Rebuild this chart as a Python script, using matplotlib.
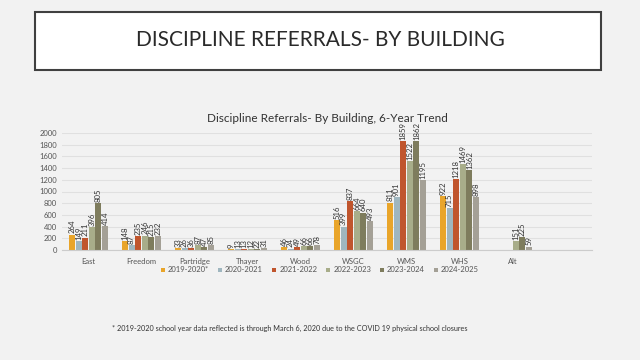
import matplotlib
matplotlib.use("Agg")
import matplotlib.pyplot as plt
from matplotlib.patches import Rectangle
import numpy as np

buildings = ["East", "Freedom", "Partridge", "Thayer", "Wood", "WSGC", "WMS", "WHS", "Alt"]
years = ["2019-2020*", "2020-2021", "2021-2022", "2022-2023", "2023-2024", "2024-2025"]
y2019 = [264, 148, 33, 9, 46, 516, 811, 922, np.nan]
y2020 = [149, 87, 26, 13, 24, 399, 901, 715, np.nan]
y2021 = [211, 235, 36, 13, 49, 837, 1859, 1218, np.nan]
y2022 = [396, 246, 87, 12, 66, 664, 1522, 1469, 151]
y2023 = [805, 215, 47, 22, 66, 640, 1862, 1362, 225]
y2024 = [414, 232, 85, 31, 78, 493, 1195, 898, 59]
series = [y2019, y2020, y2021, y2022, y2023, y2024]
colors = ["#E9A52A", "#9FB6BF", "#C0552D", "#A8AD8A", "#7E7C5D", "#A4A096"]

plt.rcParams['font.family'] = ['Lato', 'DejaVu Sans']
fig = plt.figure(figsize=(6.4, 3.6), dpi=100)
fig.patch.set_facecolor("#F2F2F2")

# title box
fig.patches.append(Rectangle((35/640, 1-69.5/360), 566/640, 58/360, transform=fig.transFigure,
                             facecolor="white", edgecolor="#404040", lw=1.5, zorder=0))
fig.text(320/640, 1-40/360, "DISCIPLINE REFERRALS- BY BUILDING", ha="center", va="center",
         fontsize=15, color="#2a2a2a")

ax = fig.add_axes([62/640, 1-250/360, 530/640, 117/360])
ax.set_facecolor("#F2F2F2")
x = np.arange(len(buildings))
bw = 0.125
for i, (vals, c, lab) in enumerate(zip(series, colors, years)):
    off = (i - 2.5) * bw
    v = np.array(vals, dtype=float)
    ax.bar(x + off, v, width=bw*0.92, color=c, label=lab, zorder=2)
    for xi, vi in zip(x + off, v):
        if not np.isnan(vi):
            ax.text(xi, vi + 20, f"{int(vi)}", rotation=90, ha="center", va="bottom",
                    fontsize=5.6, color="#333333")

ax.set_xlim(-0.5, 9.5)
ax.set_ylim(0, 2000)
ax.set_yticks(np.arange(0, 2001, 200))
ax.set_xticks(x)
ax.set_xticklabels(buildings)
ax.tick_params(axis="both", length=0, labelsize=5.5, colors="#555555")
ax.tick_params(axis="x", pad=6)
ax.grid(axis="y", color="#E0E0E0", lw=0.8, zorder=0)
for s in ["top", "right", "left"]:
    ax.spines[s].set_visible(False)
ax.spines["bottom"].set_color("#CCCCCC")
ax.set_title("Discipline Referrals- By Building, 6-Year Trend", fontsize=8.5, color="#333333", pad=8)

leg = fig.legend(loc="center", bbox_to_anchor=(320/640, 1-270/360), ncol=6, frameon=False,
                 fontsize=5.5, handlelength=0.5, handleheight=0.5, columnspacing=1.2,
                 handletextpad=0.4)
for t in leg.get_texts():
    t.set_color("#555555")

fig.text(112/640, 1-328/360,
         "* 2019-2020 school year data reflected is through March 6, 2020 due to the COVID 19 physical school closures",
         fontsize=5.2, color="#333333", va="center", ha="left")

fig.savefig("out.png", dpi=100, facecolor=fig.get_facecolor())
